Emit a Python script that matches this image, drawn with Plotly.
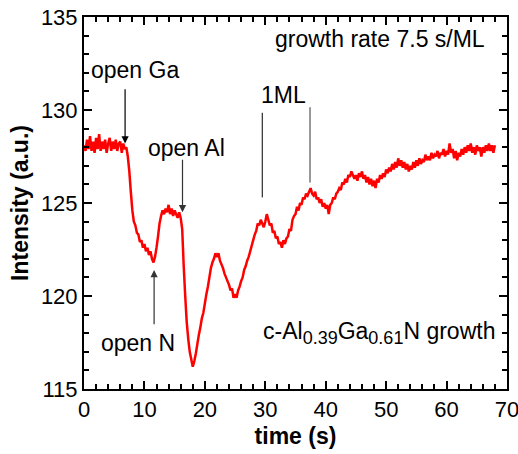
import plotly.graph_objects as go

# sampled every 0.25 s
time_s = [
    0, 0.25, 0.5, 0.75, 1, 1.25, 1.5, 1.75, 2, 2.25, 2.5, 2.75, 3, 3.25, 3.5, 3.75,
    4, 4.25, 4.5, 4.75, 5, 5.25, 5.5, 5.75, 6, 6.25, 6.5, 6.75, 7, 7.25, 7.5, 7.75,
    8, 8.25, 8.5, 8.75, 9, 9.25, 9.5, 9.75, 10, 10.25, 10.5, 10.75, 11, 11.25, 11.5, 11.75,
    12, 12.25, 12.5, 12.75, 13, 13.25, 13.5, 13.75, 14, 14.25, 14.5, 14.75, 15, 15.25, 15.5, 15.75,
    16, 16.25, 16.5, 16.75, 17, 17.25, 17.5, 17.75, 18, 18.25, 18.5, 18.75, 19, 19.25, 19.5, 19.75,
    20, 20.25, 20.5, 20.75, 21, 21.25, 21.5, 21.75, 22, 22.25, 22.5, 22.75, 23, 23.25, 23.5, 23.75,
    24, 24.25, 24.5, 24.75, 25, 25.25, 25.5, 25.75, 26, 26.25, 26.5, 26.75, 27, 27.25, 27.5, 27.75,
    28, 28.25, 28.5, 28.75, 29, 29.25, 29.5, 29.75, 30, 30.25, 30.5, 30.75, 31, 31.25, 31.5, 31.75,
    32, 32.25, 32.5, 32.75, 33, 33.25, 33.5, 33.75, 34, 34.25, 34.5, 34.75, 35, 35.25, 35.5, 35.75,
    36, 36.25, 36.5, 36.75, 37, 37.25, 37.5, 37.75, 38, 38.25, 38.5, 38.75, 39, 39.25, 39.5, 39.75,
    40, 40.25, 40.5, 40.75, 41, 41.25, 41.5, 41.75, 42, 42.25, 42.5, 42.75, 43, 43.25, 43.5, 43.75,
    44, 44.25, 44.5, 44.75, 45, 45.25, 45.5, 45.75, 46, 46.25, 46.5, 46.75, 47, 47.25, 47.5, 47.75,
    48, 48.25, 48.5, 48.75, 49, 49.25, 49.5, 49.75, 50, 50.25, 50.5, 50.75, 51, 51.25, 51.5, 51.75,
    52, 52.25, 52.5, 52.75, 53, 53.25, 53.5, 53.75, 54, 54.25, 54.5, 54.75, 55, 55.25, 55.5, 55.75,
    56, 56.25, 56.5, 56.75, 57, 57.25, 57.5, 57.75, 58, 58.25, 58.5, 58.75, 59, 59.25, 59.5, 59.75,
    60, 60.25, 60.5, 60.75, 61, 61.25, 61.5, 61.75, 62, 62.25, 62.5, 62.75, 63, 63.25, 63.5, 63.75,
    64, 64.25, 64.5, 64.75, 65, 65.25, 65.5, 65.75, 66, 66.25, 66.5, 66.75, 67, 67.25, 67.5, 67.75,
    68,
]
intensity = [
    128.1, 127.8, 128.4, 127.9, 128.6, 127.8, 128.3, 127.7, 128.5, 127.9, 128.7, 127.8,
    128.3, 127.9, 128.4, 127.7, 128.2, 128.5, 127.8, 128.3, 127.9, 128.4, 127.8, 128.2,
    128.3, 127.7, 128.2, 127.9, 128.0, 127.5, 126.7, 125.6, 124.6, 124.0, 123.8, 123.4,
    123.3, 122.9, 123.0, 122.6, 122.8, 122.4, 122.6, 122.2, 122.4, 122.0, 121.8, 122.1,
    122.6, 123.2, 123.9, 124.3, 124.6, 124.4, 124.7, 124.5, 124.9, 124.4, 124.7, 124.3,
    124.6, 124.4, 124.2, 124.5, 124.2, 123.6, 121.6, 120.0, 118.6, 117.7, 117.0, 116.6,
    116.2, 116.5, 116.9, 117.4, 117.9, 118.3, 118.8, 119.1, 119.6, 120.1, 120.5, 121.0,
    121.5, 121.8, 122.0, 122.3, 122.1, 122.3, 121.9, 121.7, 121.5, 121.2, 121.0, 120.8,
    120.6, 120.3, 120.4, 119.9, 120.1, 119.9, 120.3, 120.5, 120.8, 121.0, 121.4, 121.6,
    121.9, 122.1, 122.4, 122.7, 123.0, 123.3, 123.5, 123.9, 123.8, 124.1, 123.9, 123.7,
    124.0, 124.4, 124.1, 123.8, 123.9, 123.4, 123.5, 123.1, 123.2, 122.8, 122.9, 122.6,
    123.0, 122.8, 123.1, 123.2, 123.6, 123.5, 124.1, 124.3, 124.4, 124.8, 124.6, 125.0,
    124.9, 125.3, 125.2, 125.5, 125.4, 125.6, 125.8, 125.5, 125.4, 125.6, 125.2, 125.3,
    125.0, 125.2, 124.8, 125.0, 124.7, 124.9, 124.4, 124.9, 125.0, 125.3, 125.2, 125.5,
    125.6, 125.8, 125.7, 126.1, 126.0, 126.3, 126.1, 126.5, 126.4, 126.7, 126.5, 126.3,
    126.5, 126.2, 126.6, 126.4, 126.7, 126.3, 126.5, 126.1, 126.4, 126.0, 126.3, 125.9,
    126.2, 125.8, 126.3, 126.1, 126.5, 126.3, 126.6, 126.4, 126.8, 126.6, 126.9, 126.7,
    127.1, 126.8, 127.2, 126.9, 127.4, 127.0, 127.3, 126.9, 127.2, 126.8, 127.1, 126.7,
    127.0, 126.8, 127.2, 126.9, 127.3, 127.0, 127.4, 127.1, 127.3, 127.2, 127.6, 127.3,
    127.5, 127.3, 127.7, 127.4, 127.6, 127.5, 127.8, 127.4, 127.7, 127.6, 127.9, 127.5,
    127.8, 127.6, 128.2, 127.7, 127.9, 127.4, 127.8, 127.3, 127.7, 127.5, 127.9, 127.6,
    128.0, 127.7, 128.1, 127.8, 128.2, 127.7, 128.0, 127.6, 128.1, 127.8, 128.0, 127.5,
    128.0, 127.7, 128.1, 127.8, 128.2, 127.8, 128.1, 127.7, 128.1,
]

x_ticks = [0, 10, 20, 30, 40, 50, 60, 70]
y_ticks = [115, 120, 125, 130, 135]

FONT = "Liberation Sans, Arial, sans-serif"

fig = go.Figure()
fig.add_trace(go.Scatter(x=time_s, y=intensity, mode="lines",
                         line=dict(color="#ff0000", width=2.5, simplify=False), showlegend=False))

axis_common = dict(showline=True, linecolor="black", linewidth=2, mirror="allticks",
                   ticks="inside", ticklen=8, tickwidth=2, tickcolor="black",
                   showgrid=False, zeroline=False, automargin=False,
                   ticklabeloverflow="allow",
                   tickfont=dict(family=FONT, size=22, color="black"))

fig.update_xaxes(range=[0, 70], tickvals=x_ticks,
                 minor=dict(dtick=2, ticks="inside", ticklen=5, tickwidth=2, tickcolor="black"),
                 title=dict(text="<b>time (s)</b>", font=dict(family=FONT, size=23, color="black"),
                            standoff=6),
                 **axis_common)
fig.update_yaxes(range=[115, 135], tickvals=y_ticks,
                 minor=dict(dtick=1, ticks="inside", ticklen=5, tickwidth=2, tickcolor="black"),
                 title=dict(text="<b>Intensity (a.u.)</b>", font=dict(family=FONT, size=23, color="black"),
                            standoff=6),
                 **axis_common)

ann_font = dict(family=FONT, size=23, color="black")
annotations = [
    dict(x=6.8, y=128.2, ax=6.8, ay=131.2, text="", showarrow=True, arrowhead=2, arrowsize=1.2,
         arrowwidth=1.2, arrowcolor="black", axref="x", ayref="y"),
    dict(x=16.3, y=124.5, ax=16.3, ay=127.4, text="", showarrow=True, arrowhead=2, arrowsize=1.2,
         arrowwidth=1.2, arrowcolor="#333333", axref="x", ayref="y"),
    dict(x=11.6, y=121.4, ax=11.6, ay=118.4, text="", showarrow=True, arrowhead=2, arrowsize=1.2,
         arrowwidth=1.2, arrowcolor="#333333", axref="x", ayref="y"),
    dict(x=0.9, y=132.15, text="open Ga", showarrow=False, xanchor="left", yanchor="middle", font=ann_font),
    dict(x=10.3, y=127.95, text="open Al", showarrow=False, xanchor="left", yanchor="middle", font=ann_font),
    dict(x=2.5, y=117.45, text="open N", showarrow=False, xanchor="left", yanchor="middle", font=ann_font),
    dict(x=29.0, y=130.8, text="1ML", showarrow=False, xanchor="left", yanchor="middle", font=ann_font),
    dict(x=31.3, y=133.8, text="growth rate 7.5 s/ML", showarrow=False, xanchor="left",
         yanchor="middle", font=ann_font),
    dict(x=68.3, y=118.0,
         text=("c-Al<sub><span style='font-size:18px'>0.39</span></sub>"
               "Ga<sub><span style='font-size:18px'>0.61</span></sub>N growth"),
         showarrow=False, xanchor="right", yanchor="middle", font=ann_font),
]
fig.update_layout(annotations=annotations)

fig.add_shape(type="line", x0=29.5, x1=29.5, y0=129.85, y1=125.3, line=dict(color="black", width=1))
fig.add_shape(type="line", x0=37.4, x1=37.4, y0=130.15, y1=126.1, line=dict(color="#333333", width=1))

fig.update_layout(width=518, height=454, margin=dict(l=84, r=11, t=17, b=65),
                  plot_bgcolor="white", paper_bgcolor="white",
                  font=dict(family=FONT, color="black"))

fig.write_html("out.html")
